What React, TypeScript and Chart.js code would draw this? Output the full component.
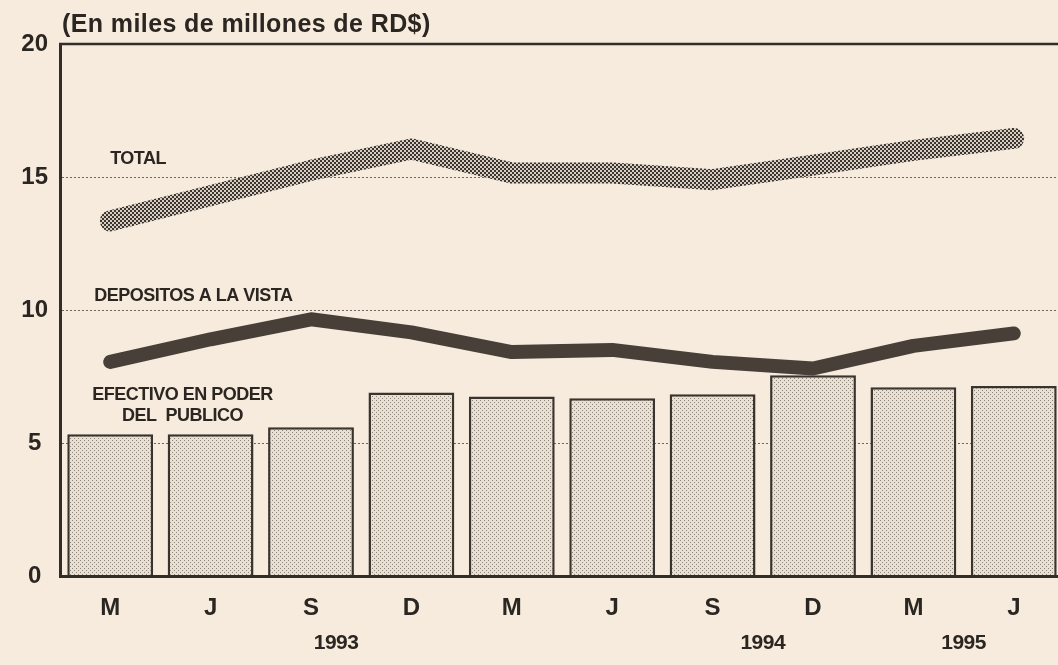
import React, { useEffect, useRef } from 'react';
import { Chart, registerables } from 'chart.js';

Chart.register(...registerables);

// ---- data ----
const categories = ['M', 'J', 'S', 'D', 'M', 'J', 'S', 'D', 'M', 'J'];
const efectivo = [5.33, 5.33, 5.59, 6.9, 6.75, 6.68, 6.83, 7.55, 7.1, 7.14];
const depositos = [8.05, 8.9, 9.65, 9.16, 8.42, 8.5, 8.05, 7.8, 8.65, 9.12];
const total = [13.35, 14.3, 15.25, 16.05, 15.15, 15.15, 14.9, 15.45, 16.0, 16.45];
const yTickValues = [0, 5, 10, 15, 20];
const years = ['1993', '1994', '1995'];
const yearAt = [2.25, 6.5, 8.5];
const title = '(En miles de millones de RD$)';
const seriesLabelText = ['TOTAL', 'DEPOSITOS A LA VISTA', 'EFECTIVO EN PODER', 'DEL  PUBLICO'];
const seriesLabelAt = [0, -0.16, 0.72, 0.72];
const seriesLabelValue = [15.68, 10.53, 6.8, 6.02];
const seriesLabelAlign: CanvasTextAlign[] = ['left', 'left', 'center', 'center'];

const BG = '#f6ebdc';
const INK = '#2b2622';
const FONT = "'Liberation Sans', Arial, Helvetica, sans-serif";

function makePattern(size: number, bg: string, dot: string, dots: number[][], dotSize: number) {
  const c = document.createElement('canvas');
  c.width = size;
  c.height = size;
  const g = c.getContext('2d')!;
  g.fillStyle = bg;
  g.fillRect(0, 0, size, size);
  g.fillStyle = dot;
  dots.forEach(([x, y]) => g.fillRect(x, y, dotSize, dotSize));
  const ctx = document.createElement('canvas').getContext('2d')!;
  return ctx.createPattern(c, 'repeat') as CanvasPattern;
}

const textPlugin = {
  id: 'annotText',
  afterDraw(chart: any) {
    const { ctx, chartArea, scales } = chart;
    const x = scales.x;
    const y = scales.y;
    ctx.save();
    // top frame line
    ctx.strokeStyle = '#332d29';
    ctx.lineWidth = 2.5;
    ctx.beginPath();
    ctx.moveTo(chartArea.left - 1, chartArea.top);
    ctx.lineTo(chartArea.right, chartArea.top);
    ctx.stroke();

    ctx.fillStyle = INK;
    // title
    ctx.font = `bold 25px ${FONT}`;
    (ctx as any).letterSpacing = '0.4px';
    ctx.textAlign = 'left';
    ctx.textBaseline = 'middle';
    ctx.fillText(title, chartArea.left + 2, 25);

    // series labels
    ctx.font = `bold 18px ${FONT}`;
    (ctx as any).letterSpacing = '-0.5px';
    seriesLabelText.forEach((t, i) => {
      ctx.textAlign = seriesLabelAlign[i];
      ctx.fillText(t, x.getPixelForValue(seriesLabelAt[i]), y.getPixelForValue(seriesLabelValue[i]));
    });

    // years
    ctx.font = `bold 21px ${FONT}`;
    ctx.textAlign = 'center';
    years.forEach((t, i) => {
      ctx.fillText(t, x.getPixelForValue(yearAt[i]), chartArea.bottom + 67);
    });
    ctx.restore();
  },
};

export default function App() {
  const ref = useRef<HTMLCanvasElement>(null);

  useEffect(() => {
    const canvas = ref.current!;
    const barPattern = makePattern(4, '#e9e0d2', '#8d857b', [[0, 0], [2, 2]], 1);
    const totalPattern = makePattern(4, '#d6cdc0', '#3b3632', [[0, 0], [2, 2]], 2);

    const chart = new Chart(canvas, {
      type: 'bar',
      data: {
        labels: categories,
        datasets: [
          {
            type: 'line',
            label: 'DEPOSITOS A LA VISTA',
            data: depositos,
            borderColor: '#483f39',
            borderWidth: 14,
            borderCapStyle: 'round',
            borderJoinStyle: 'round',
            pointRadius: 0,
            tension: 0,
            order: 1,
          } as any,
          {
            type: 'line',
            label: 'TOTAL',
            data: total,
            borderColor: totalPattern,
            borderWidth: 21,
            borderCapStyle: 'round',
            borderJoinStyle: 'round',
            pointRadius: 0,
            tension: 0,
            order: 2,
          } as any,
          {
            type: 'bar',
            label: 'EFECTIVO EN PODER DEL PUBLICO',
            data: efectivo,
            backgroundColor: barPattern,
            borderColor: '#3a342f',
            borderWidth: 2.5,
            borderSkipped: 'start',
            categoryPercentage: 1,
            barPercentage: 0.855,
            order: 3,
          } as any,
        ],
      },
      options: {
        responsive: false,
        maintainAspectRatio: false,
        animation: false,
        events: [],
        layout: { padding: { top: 44, left: 0, right: 0, bottom: 0 } },
        plugins: {
          legend: { display: false },
          tooltip: { enabled: false },
          title: { display: false },
        },
        scales: {
          x: {
            offset: true,
            grid: { display: false, drawTicks: false },
            border: { display: true, color: '#332d29', width: 3, z: 1 },
            ticks: {
              color: INK,
              font: { family: FONT, size: 24, weight: 'bold' },
              padding: 18,
              maxRotation: 0,
              autoSkip: false,
            },
            afterFit: (s: any) => {
              s.height = 89;
            },
          },
          y: {
            min: 0,
            max: 20,
            afterBuildTicks: (s: any) => {
              s.ticks = yTickValues.map((v) => ({ value: v }));
            },
            grid: {
              drawTicks: false,
              color: (c: any) =>
                c.tick && (c.tick.value === 0 || c.tick.value === 20) ? 'rgba(0,0,0,0)' : '#6e665e',
              lineWidth: 1,
            },
            border: { display: true, color: '#332d29', width: 3, dash: [2, 2], z: 1 },
            ticks: {
              color: INK,
              font: { family: FONT, size: 24, weight: 'bold' },
              padding: 12,
              crossAlign: 'center',
            },
            afterFit: (s: any) => {
              s.width = 60;
            },
          },
        },
      },
      plugins: [textPlugin],
    });
    return () => chart.destroy();
  }, []);

  return (
    <div
      style={{
        position: 'absolute',
        left: 0,
        top: 0,
        width: 1058,
        height: 665,
        overflow: 'hidden',
        background: BG,
      }}
    >
      <canvas ref={ref} width={1064} height={665} style={{ display: 'block' }} />
    </div>
  );
}
